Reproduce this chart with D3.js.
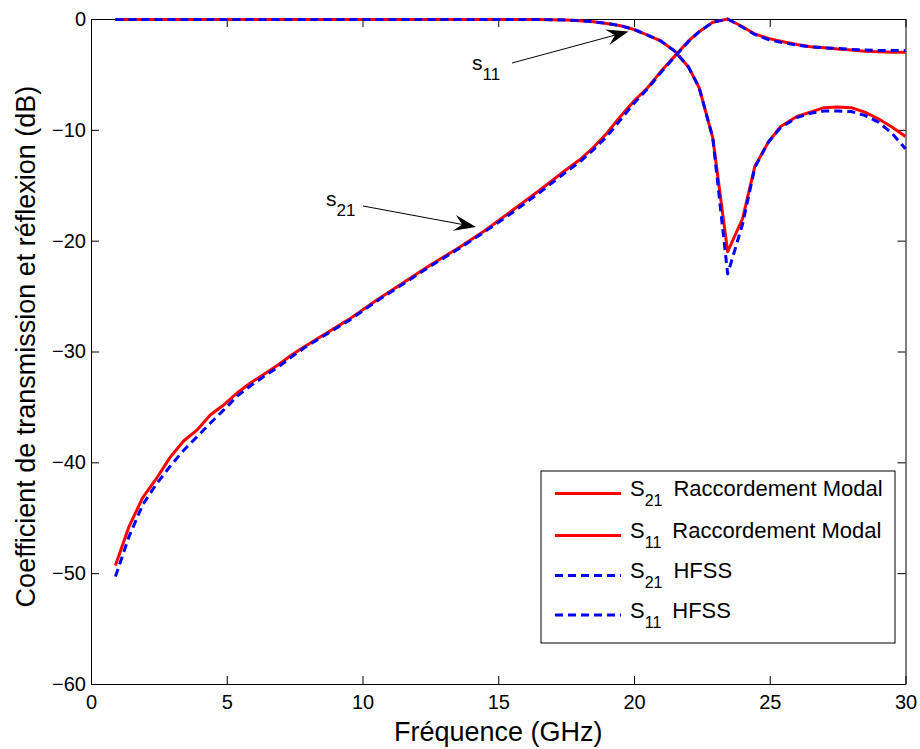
<!DOCTYPE html>
<html>
<head>
<meta charset="utf-8">
<script src="https://cdn.jsdelivr.net/npm/d3@7"></script>
<style>
  body { margin: 0; background: #fff; }
  svg { display: block; font-family: "Liberation Sans", Arial, sans-serif; }
</style>
</head>
<body>
<div id="chart"></div>
<script>
// frequency points (GHz)
const freq = [0.9, 1.4, 1.9, 2.4, 2.9, 3.4, 3.9, 4.4, 4.9, 5.4, 5.9, 6.4, 6.9, 7.4, 7.9,
  8.5, 9.5, 10.5, 11.5, 12.5, 13.5, 14.5, 15.5, 16.5, 17.5,
  18, 18.5, 19, 19.5, 20, 20.5, 21, 21.5, 22,
  22.4, 22.9, 23.45, 24, 24.45, 24.95, 25.4,
  26, 26.5, 27, 27.5, 28, 28.5, 29, 29.5, 30];

const s21Modal = [-49.3, -45.8, -43.2, -41.5, -39.6, -38.1, -37.1, -35.7, -34.8, -33.7, -32.8, -32.0, -31.2, -30.3, -29.5,
  -28.6, -27.1, -25.4, -23.8, -22.2, -20.7, -19.1, -17.3, -15.5, -13.6,
  -12.7, -11.6, -10.3, -8.8, -7.4, -6.2, -4.7, -3.35, -2.0,
  -1.15, -0.3, 0, -0.7, -1.35, -1.75, -2.0,
  -2.3, -2.5, -2.6, -2.7, -2.8, -2.9, -2.95, -3.0, -3.0];

const s11Modal = [-0.05, -0.05, -0.05, -0.05, -0.05, -0.05, -0.05, -0.05, -0.05, -0.05, -0.05, -0.05, -0.05, -0.05, -0.05,
  -0.05, -0.05, -0.05, -0.05, -0.05, -0.05, -0.05, -0.05, -0.05, -0.08,
  -0.15, -0.25, -0.4, -0.6, -0.95, -1.45, -2.0, -2.9, -4.3,
  -6.2, -10.7, -21.0, -18.0, -13.3, -11.1, -9.7,
  -8.8, -8.4, -8.0, -7.95, -8.0, -8.4, -9.0, -9.75, -10.6];

const s21Hfss = [-50.3, -46.7, -43.85, -42.0, -40.4, -38.95, -37.7, -36.45, -35.25, -34.0, -33.05, -32.2, -31.4, -30.45, -29.6,
  -28.7, -27.2, -25.5, -23.9, -22.3, -20.8, -19.2, -17.5, -15.7, -13.8,
  -12.9, -11.8, -10.6, -9.1, -7.6, -6.3, -4.8, -3.4, -2.05,
  -1.15, -0.3, 0, -0.75, -1.4, -1.85, -2.1,
  -2.35, -2.5, -2.6, -2.65, -2.75, -2.8, -2.85, -2.85, -2.85];

const s11Hfss = [-0.05, -0.05, -0.05, -0.05, -0.05, -0.05, -0.05, -0.05, -0.05, -0.05, -0.05, -0.05, -0.05, -0.05, -0.05,
  -0.05, -0.05, -0.05, -0.05, -0.05, -0.05, -0.05, -0.05, -0.05, -0.08,
  -0.15, -0.25, -0.4, -0.6, -0.95, -1.45, -2.0, -2.9, -4.3,
  -6.2, -10.7, -23.0, -18.5, -13.4, -11.1, -9.8,
  -8.9, -8.5, -8.3, -8.3, -8.35, -8.7, -9.3, -10.3, -11.7];

const xTicks = [0, 5, 10, 15, 20, 25, 30];
const yTicks = [0, -10, -20, -30, -40, -50, -60];

const legendNames = [
  { sub: "21", label: "Raccordement Modal" },
  { sub: "11", label: "Raccordement Modal" },
  { sub: "21", label: "HFSS" },
  { sub: "11", label: "HFSS" }
];

const width = 920;
const height = 749;
const marginTop = 19;
const marginRight = 14.5;
const marginBottom = 65;
const marginLeft = 91;

const svg = d3.select("#chart")
  .append("svg")
  .attr("width", width)
  .attr("height", height)
  .attr("viewBox", [0, 0, width, height]);

const x = d3.scaleLinear()
  .domain([0, 30])
  .range([marginLeft, width - marginRight]);

const y = d3.scaleLinear()
  .domain([-60, 0])
  .range([height - marginBottom, marginTop]);

// axes, ticks pointing inwards on all four sides (matlab box)
const tickLen = 8;
svg.append("g")
  .attr("transform", `translate(0,${height - marginBottom})`)
  .call(d3.axisBottom(x).tickValues(xTicks).tickSize(-tickLen).tickPadding(11).tickSizeOuter(0))
  .call(g => g.selectAll("text").attr("font-size", 20).attr("fill", "#000").attr("font-family", "Liberation Sans, Arial, sans-serif"));

svg.append("g")
  .attr("transform", `translate(0,${marginTop})`)
  .call(d3.axisTop(x).tickValues(xTicks).tickSize(-tickLen).tickFormat("").tickSizeOuter(0));

svg.append("g")
  .attr("transform", `translate(${marginLeft},0)`)
  .call(d3.axisLeft(y).tickValues(yTicks).tickSize(-tickLen).tickPadding(5).tickSizeOuter(0))
  .call(g => g.selectAll("text").attr("font-size", 20).attr("fill", "#000").attr("font-family", "Liberation Sans, Arial, sans-serif"));

svg.append("g")
  .attr("transform", `translate(${width - marginRight},0)`)
  .call(d3.axisRight(y).tickValues(yTicks).tickSize(-tickLen).tickFormat("").tickSizeOuter(0));

svg.selectAll(".domain").attr("stroke", "#000");
svg.selectAll(".tick line").attr("stroke", "#000");

// axis titles
svg.append("text")
  .attr("x", (marginLeft + width - marginRight) / 2)
  .attr("y", 741)
  .attr("text-anchor", "middle")
  .attr("font-size", 27)
  .text("Fréquence (GHz)");

svg.append("text")
  .attr("transform", `translate(35,${(marginTop + height - marginBottom) / 2 - 5}) rotate(-90)`)
  .attr("text-anchor", "middle")
  .attr("font-size", 27)
  .text("Coefficient de transmission et réflexion (dB)");

// curves
const series = [
  { values: s21Modal, color: "#ff0000", dash: null },
  { values: s11Modal, color: "#ff0000", dash: null },
  { values: s21Hfss, color: "#0000ff", dash: "8,5" },
  { values: s11Hfss, color: "#0000ff", dash: "8,5" }
];

const line = d3.line()
  .x(d => x(d[0]))
  .y(d => y(d[1]));

svg.append("g")
  .selectAll("path")
  .data(series)
  .join("path")
  .attr("fill", "none")
  .attr("stroke", d => d.color)
  .attr("stroke-width", 3)
  .attr("stroke-dasharray", d => d.dash)
  .attr("stroke-linejoin", "round")
  .attr("d", d => line(freq.map((f, i) => [f, d.values[i]])));

// annotations with matlab style arrows
function arrow(x1, y1, x2, y2) {
  const ang = Math.atan2(y2 - y1, x2 - x1);
  const L = 22, W = 8, notch = 14;
  const cx = Math.cos(ang), sy = Math.sin(ang);
  const bx = x2 - L * cx, by = y2 - L * sy;
  const p1 = [bx - W * sy, by + W * cx];
  const p2 = [bx + W * sy, by - W * cx];
  const pn = [x2 - notch * cx, y2 - notch * sy];
  svg.append("line")
    .attr("x1", x1).attr("y1", y1)
    .attr("x2", pn[0]).attr("y2", pn[1])
    .attr("stroke", "#000").attr("stroke-width", 1);
  svg.append("path")
    .attr("d", `M${x2},${y2}L${p1}L${pn}L${p2}Z`)
    .attr("fill", "#000");
}

arrow(512, 63, 628.5, 31.5);
arrow(363, 206, 476, 227);

function label(xp, yp, sub) {
  const t = svg.append("text")
    .attr("x", xp)
    .attr("y", yp)
    .attr("font-size", 21);
  t.append("tspan").text("s");
  t.append("tspan").attr("dy", 10).attr("font-size", 17).text(sub);
}
label(472, 70, "11");
label(326, 206, "21");

// legend
const legX = 541, legY = 471, legW = 354, legH = 172;
const leg = svg.append("g");
leg.append("rect")
  .attr("x", legX).attr("y", legY)
  .attr("width", legW).attr("height", legH)
  .attr("fill", "#fff")
  .attr("stroke", "#000")
  .attr("stroke-width", 1);

const rowY = [493.5, 535.5, 575.5, 615];
legendNames.forEach((d, i) => {
  leg.append("line")
    .attr("x1", 555).attr("x2", 621)
    .attr("y1", rowY[i]).attr("y2", rowY[i])
    .attr("stroke", series[i].color)
    .attr("stroke-width", 3)
    .attr("stroke-dasharray", series[i].dash);
  const t = leg.append("text")
    .attr("x", 630)
    .attr("y", rowY[i] + 2.5)
    .attr("font-size", 22);
  t.append("tspan").text("S");
  t.append("tspan").attr("dy", 10).attr("font-size", 16).text(d.sub);
  t.append("tspan").attr("dy", -10).attr("dx", 11).text(d.label);
});
</script>
</body>
</html>
